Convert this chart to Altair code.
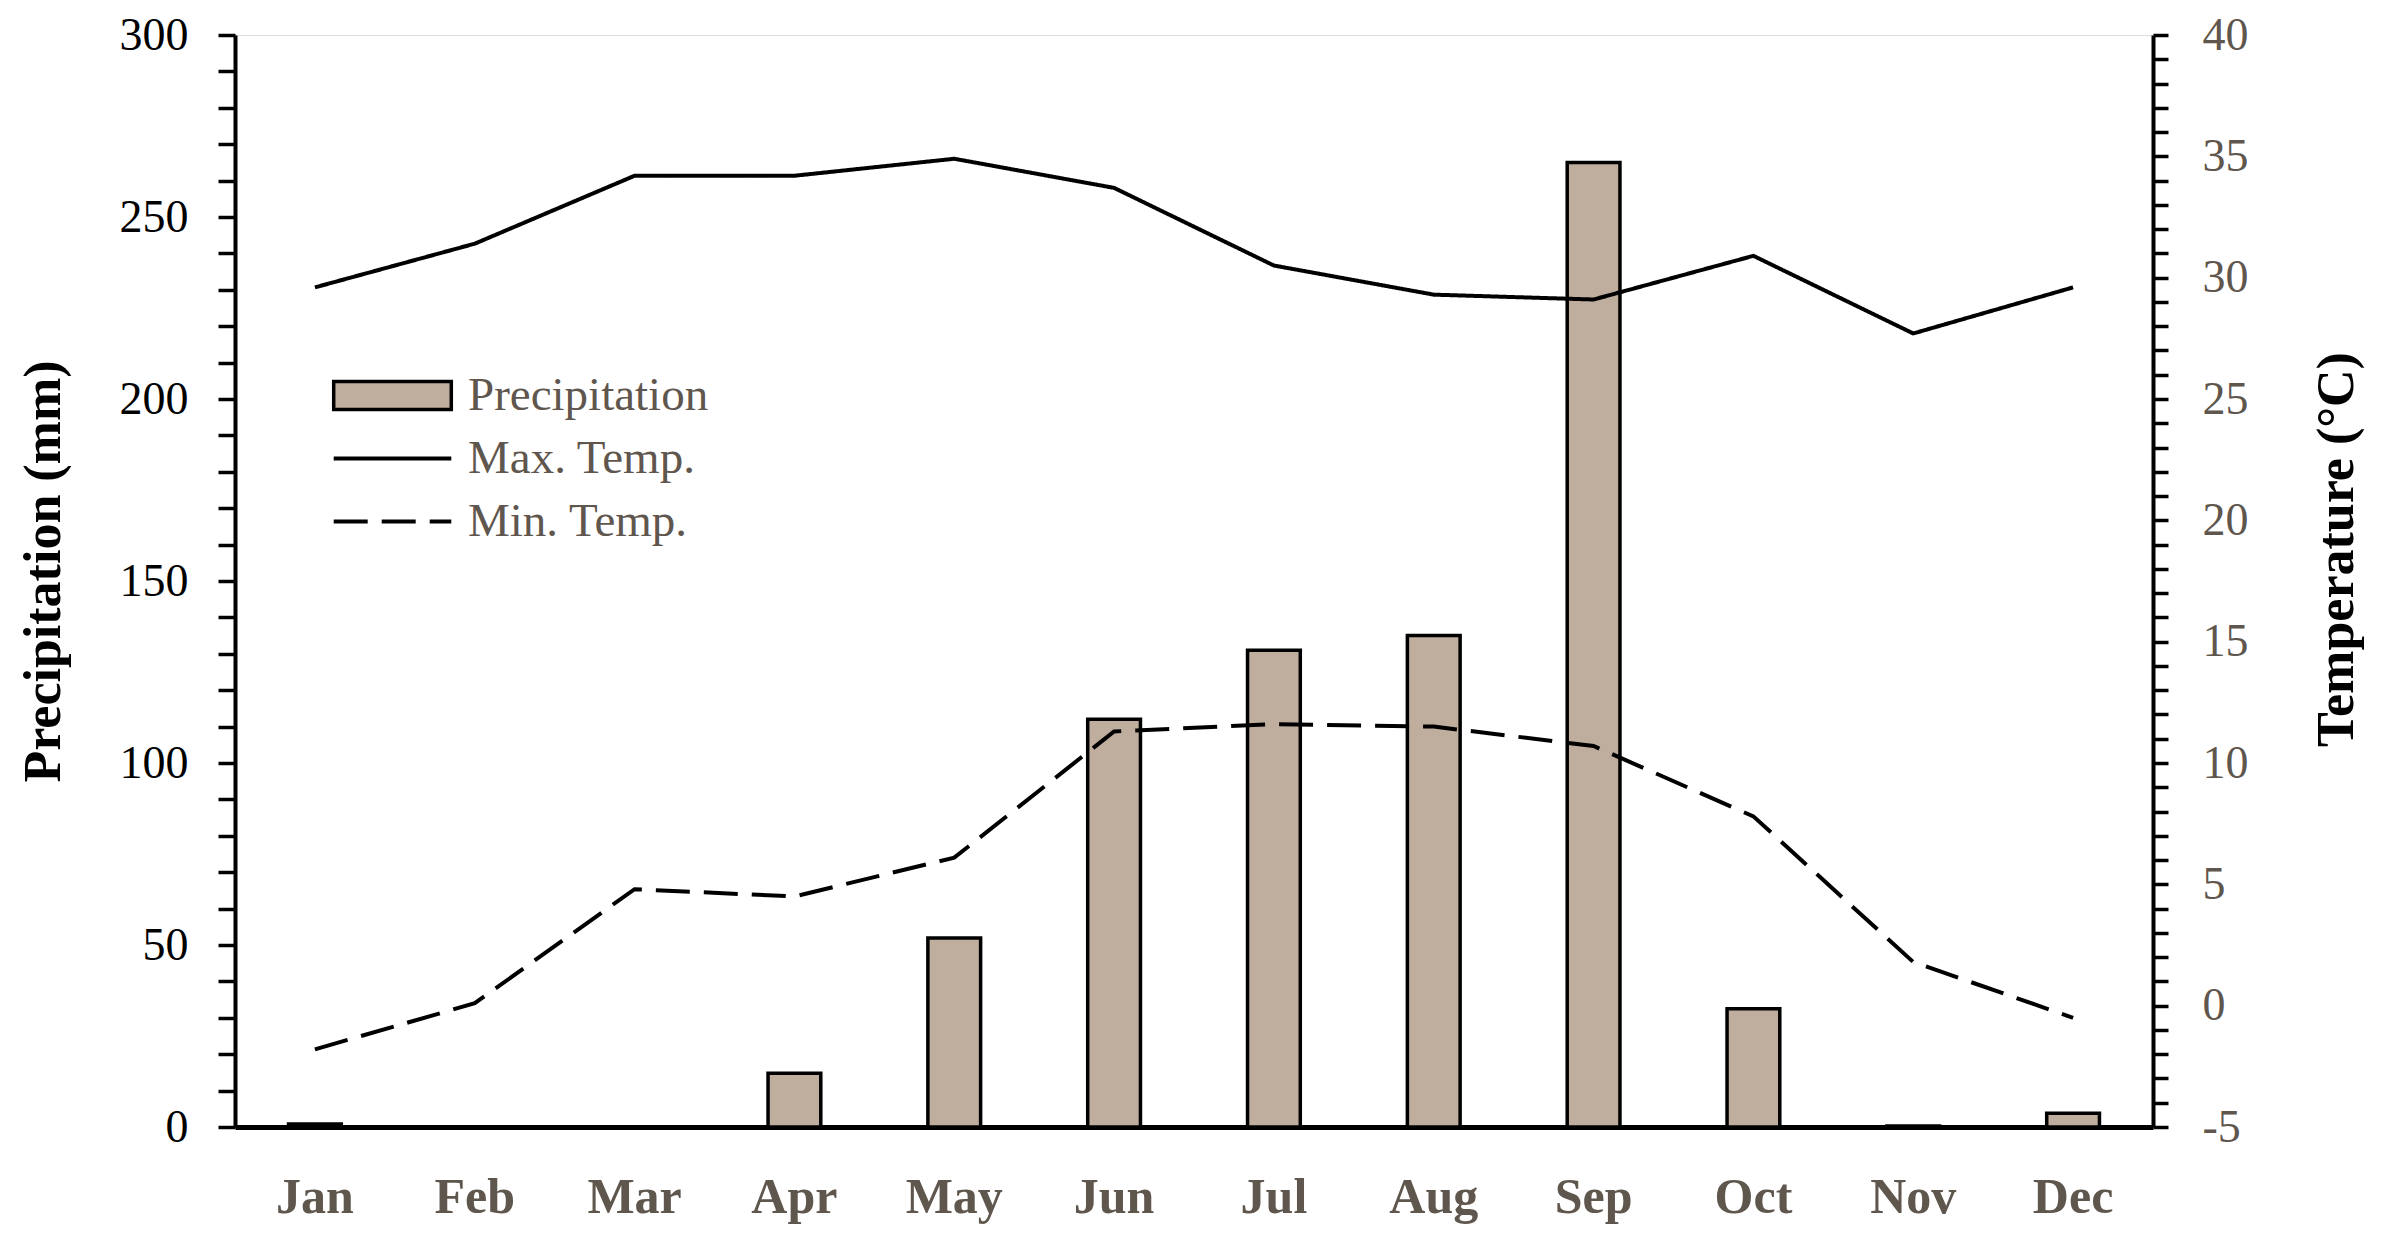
import altair as alt
import pandas as pd

months = ["Jan", "Feb", "Mar", "Apr", "May", "Jun", "Jul", "Aug", "Sep", "Oct", "Nov", "Dec"]
precip = [0.8, 0, 0, 14.8, 51.9, 112.0, 131, 135, 265, 32.5, 0.3, 3.8]
tmax = [29.6, 31.4, 34.2, 34.2, 34.9, 33.7, 30.5, 29.3, 29.1, 30.9, 27.7, 29.6]
tmin = [-1.8, 0.1, 4.8, 4.5, 6.1, 11.3, 11.6, 11.5, 10.7, 7.8, 1.8, -0.5]
series_names = ["Precipitation", "Max. Temp.", "Min. Temp."]

FONT = "Liberation Serif"
GRAY = "#5f564e"
BAR = "#bfad9d"

bar_df = pd.DataFrame({"month": months, "value": precip, "series": series_names[0]})
line_df = pd.DataFrame({
    "month": months + months,
    "value": tmax + tmin,
    "series": [series_names[1]] * 12 + [series_names[2]] * 12,
})

x_enc = alt.X(
    "month:N",
    sort=months,
    scale=alt.Scale(paddingInner=0, paddingOuter=0),
    axis=alt.Axis(
        title=None, labelAngle=0, ticks=False, tickSize=0,
        domainColor="black", domainWidth=5,
        labelFont=FONT, labelFontSize=50, labelFontWeight="bold", labelColor=GRAY,
        labelBaseline="alphabetic", labelPadding=85,
    ),
)

bars = alt.Chart(bar_df).mark_bar(
    width=alt.RelativeBandSize(0.33), stroke="black", strokeWidth=3.5
).encode(
    x=x_enc,
    y=alt.Y(
        "value:Q",
        scale=alt.Scale(domain=[0, 300], nice=False),
        axis=alt.Axis(
            orient="left", values=list(range(0, 301, 10)),
            labelExpr="datum.value % 50 == 0 ? '' + datum.value : ''",
            labelOverlap=False, grid=False,
            tickSize=17, tickWidth=3.5, tickColor="black",
            domainColor="black", domainWidth=4,
            labelFont=FONT, labelFontSize=46, labelColor="black", labelPadding=30,
            title="Precipitation (mm)", titleFont=FONT, titleFontSize=52,
            titleFontWeight="bold", titleColor="black", titleAngle=270,
            titleAlign="center", titleBaseline="alphabetic", titleX=-176, titleY=536,
        ),
    ),
    fill=alt.Fill(
        "series:N",
        scale=alt.Scale(domain=[series_names[0]], range=[BAR]),
        legend=alt.Legend(
            title=None, orient="none", legendX=134, legendY=337, padding=0,
            symbolType="M-4.2,-1H4.2V1H-4.2Z", symbolSize=784,
            symbolStrokeColor="black", symbolStrokeWidth=3.5, symbolFillColor=BAR,
            labelFont=FONT, labelFontSize=47, labelColor=GRAY, labelOffset=52,
            labelLimit=500,
        ),
    ),
)

lines = alt.Chart(line_df).mark_line(color="black", strokeWidth=4).encode(
    x=x_enc,
    y=alt.Y(
        "value:Q",
        scale=alt.Scale(domain=[-5, 40], nice=False),
        axis=alt.Axis(
            orient="right", values=list(range(-5, 41)),
            labelExpr="datum.value % 5 == 0 ? '' + datum.value : ''",
            labelOverlap=False, grid=False,
            tickSize=15, tickWidth=3.5, tickColor="black",
            domainColor="black", domainWidth=4,
            labelFont=FONT, labelFontSize=46, labelColor=GRAY, labelPadding=34,
            title="Temperature (°C)", titleFont=FONT, titleFontSize=52,
            titleFontWeight="bold", titleColor="black", titleAngle=270,
            titleAlign="center", titleBaseline="alphabetic", titleX=199, titleY=514,
        ),
    ),
    strokeDash=alt.StrokeDash(
        "series:N",
        scale=alt.Scale(domain=series_names[1:], range=[[1, 0], [34, 14]]),
        legend=alt.Legend(
            title=None, orient="none", legendX=134, legendY=400, padding=0,
            symbolType="M-4.2,0H4.2", symbolSize=784,
            symbolStrokeColor="black", symbolStrokeWidth=4,
            labelFont=FONT, labelFontSize=47, labelColor=GRAY, labelOffset=52,
            labelLimit=500, rowPadding=15,
        ),
    ),
)

chart = alt.layer(bars, lines).resolve_scale(
    y="independent", fill="independent", strokeDash="independent"
).properties(
    width=1918, height=1092,
    autosize=alt.AutoSizeParams(type="none"),
    padding={"left": 227, "top": 27, "right": 228, "bottom": 114},
).configure_view(strokeWidth=0).configure(background="white")

chart.save("out.html", embed_options={"renderer": "svg", "actions": False})
